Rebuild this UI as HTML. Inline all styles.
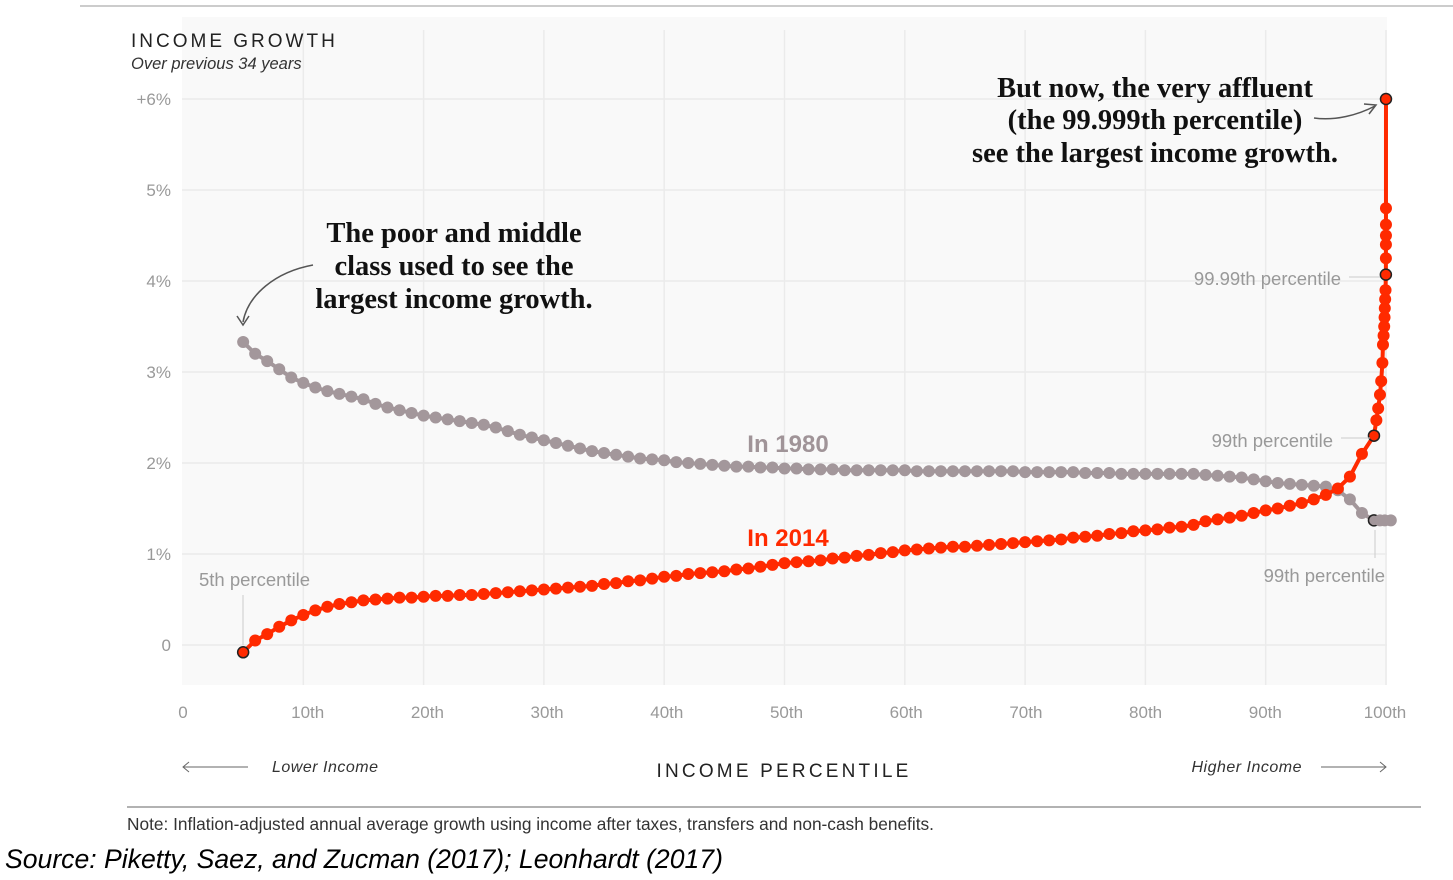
<!DOCTYPE html>
<html><head><meta charset="utf-8"><style>
body{margin:0;background:#fff;width:1453px;height:880px;overflow:hidden;font-family:"Liberation Sans",sans-serif}
svg{position:absolute;left:0;top:0}
</style></head><body>
<svg width="1453" height="880">
<line x1="80" y1="6" x2="1453" y2="6" stroke="#ccc" stroke-width="2"/>
<rect x="182" y="17" width="1205" height="668" fill="#f9f9f9"/>
<g id="grid"></g>
<text x="131" y="47" font-size="19" letter-spacing="3" fill="#222">INCOME GROWTH</text>
<text x="131" y="69" font-size="16.5" font-style="italic" fill="#333">Over previous 34 years</text>
<g id="yticks"></g>
<g id="xticks"></g>
<g id="s1980"></g>
<g id="s2014"></g>
<g font-family="Liberation Serif,serif" font-weight="bold" font-size="28.5" fill="#111" text-anchor="middle">
<text x="454" y="242">The poor and middle</text><text x="454" y="275">class used to see the</text><text x="454" y="308">largest income growth.</text></g>
<path d="M313,265 C275,272 248,295 243,322" fill="none" stroke="#555" stroke-width="1.5"/>
<path d="M237,316 L243,325 L249,316" fill="none" stroke="#555" stroke-width="1.5"/>
<g font-family="Liberation Serif,serif" font-weight="bold" font-size="28.5" fill="#111" text-anchor="middle">
<text x="1155" y="97">But now, the very affluent</text><text x="1155" y="129">(the 99.999th percentile)</text><text x="1155" y="162">see the largest income growth.</text></g>
<path d="M1314,118 C1335,121 1358,115 1375,106" fill="none" stroke="#555" stroke-width="1.5"/>
<path d="M1364,104 L1376,105 L1369,114" fill="none" stroke="#555" stroke-width="1.5"/>
<text x="788" y="452" font-size="24" font-weight="bold" fill="#a09498" text-anchor="middle">In 1980</text>
<text x="788" y="546" font-size="24" font-weight="bold" fill="#ff2a00" text-anchor="middle">In 2014</text>
<g font-size="18.5" fill="#999">
<text x="199" y="586">5th percentile</text>
<line x1="243" y1="595" x2="243" y2="645" stroke="#ccc"/>
<text x="1341" y="285" text-anchor="end">99.99th percentile</text>
<line x1="1349" y1="277" x2="1380" y2="277" stroke="#ccc"/>
<text x="1333" y="447" text-anchor="end">99th percentile</text>
<line x1="1341" y1="438" x2="1370" y2="438" stroke="#ccc"/>
<text x="1385" y="582" text-anchor="end">99th percentile</text>
<line x1="1375" y1="530" x2="1375" y2="558" stroke="#ccc"/>
</g>
<g font-size="16" font-style="italic" fill="#333">
<line x1="183" y1="767" x2="248" y2="767" stroke="#666"/><path d="M189,762 L183,767 L189,772" fill="none" stroke="#666"/>
<text x="272" y="772" letter-spacing="0.5">Lower Income</text>
<text x="1302" y="772" text-anchor="end" letter-spacing="0.5">Higher Income</text>
<line x1="1321" y1="767" x2="1386" y2="767" stroke="#666"/><path d="M1380,762 L1386,767 L1380,772" fill="none" stroke="#666"/>
</g>
<text x="784" y="777" font-size="19" letter-spacing="3.2" fill="#222" text-anchor="middle">INCOME PERCENTILE</text>
<line x1="127" y1="807" x2="1421" y2="807" stroke="#999" stroke-width="1.5"/>
<text x="127" y="830" font-size="17.3" fill="#333">Note: Inflation-adjusted annual average growth using income after taxes, transfers and non-cash benefits.</text>
<text x="5" y="868" font-size="26.6" font-style="italic" fill="#000">Source: Piketty, Saez, and Zucman (2017); Leonhardt (2017)</text>
</svg>
<script>
const yTicks=[0,1,2,3,4,5,6];
const yTickLabels=["0","1%","2%","3%","4%","5%","+6%"];
const xTicks=[0,10,20,30,40,50,60,70,80,90,100];
const xTickLabels=["0","10th","20th","30th","40th","50th","60th","70th","80th","90th","100th"];
const pct1980=[5,6,7,8,9,10,11,12,13,14,15,16,17,18,19,20,21,22,23,24,25,26,27,28,29,30,31,32,33,34,35,36,37,38,39,40,41,42,43,44,45,46,47,48,49,50,51,52,53,54,55,56,57,58,59,60,61,62,63,64,65,66,67,68,69,70,71,72,73,74,75,76,77,78,79,80,81,82,83,84,85,86,87,88,89,90,91,92,93,94,95,96,97,98,99,99.5,99.9,100.4];
const val1980=[
3.33,3.2,3.12,3.03,2.94,2.88,2.83,2.79,2.76,2.73,
2.7,2.65,2.61,2.58,2.55,2.52,2.5,2.48,2.46,2.44,
2.42,2.39,2.35,2.31,2.28,2.25,2.22,2.19,2.16,2.13,
2.11,2.09,2.07,2.05,2.04,2.03,2.01,2.0,1.99,1.98,
1.97,1.96,1.96,1.95,1.95,1.94,1.94,1.93,1.93,1.93,
1.92,1.92,1.92,1.92,1.92,1.92,1.91,1.91,1.91,1.91,
1.91,1.91,1.91,1.91,1.91,1.9,1.9,1.9,1.9,1.9,
1.89,1.89,1.89,1.88,1.88,1.88,1.88,1.88,1.88,1.88,
1.87,1.86,1.85,1.84,1.82,1.8,1.78,1.77,1.76,1.75,
1.74,1.7,1.6,1.45,1.37,
1.37,1.37,1.37];
const pct2014=[5,6,7,8,9,10,11,12,13,14,15,16,17,18,19,20,21,22,23,24,25,26,27,28,29,30,31,32,33,34,35,36,37,38,39,40,41,42,43,44,45,46,47,48,49,50,51,52,53,54,55,56,57,58,59,60,61,62,63,64,65,66,67,68,69,70,71,72,73,74,75,76,77,78,79,80,81,82,83,84,85,86,87,88,89,90,91,92,93,94,95,96,97,98,99,99.2,99.35,99.5,99.6,99.7,99.75,99.8,99.85,99.88,99.9,99.93,99.96,99.99,99.992,99.994,99.996,99.997,99.998,99.999];
const val2014=[
-0.08,0.05,0.12,0.2,0.27,0.33,0.38,0.42,0.45,0.47,
0.49,0.5,0.51,0.52,0.52,0.53,0.54,0.54,0.55,0.55,
0.56,0.57,0.58,0.59,0.6,0.61,0.62,0.63,0.64,0.65,
0.67,0.68,0.7,0.71,0.73,0.75,0.76,0.78,0.79,0.8,
0.81,0.83,0.84,0.86,0.88,0.9,0.91,0.92,0.93,0.95,
0.96,0.98,0.99,1.01,1.02,1.04,1.05,1.06,1.07,1.08,
1.08,1.09,1.1,1.11,1.12,1.13,1.14,1.15,1.16,1.18,
1.19,1.2,1.22,1.23,1.25,1.26,1.27,1.29,1.3,1.32,
1.36,1.38,1.4,1.42,1.45,1.48,1.5,1.53,1.56,1.6,1.65,1.72,1.85,2.1,2.3,
2.47,2.6,2.75,2.9,3.1,3.3,3.4,3.5,3.6,3.7,3.8,3.9,4.07,
4.25,4.4,4.5,4.62,4.8,6.0];
const NS="http://www.w3.org/2000/svg";
const X=p=>183+p*12.03, Y=v=>645-v*91;
function mk(t,a,parent){const e=document.createElementNS(NS,t);for(const k in a)e.setAttribute(k,a[k]);parent.appendChild(e);return e;}
const grid=document.getElementById('grid'),yt=document.getElementById('yticks'),xt=document.getElementById('xticks');
yTicks.forEach((v,i)=>{
 const l=mk('line',{x1:182,x2:1387,y1:Y(v),y2:Y(v),stroke:'#ebebeb','stroke-width':1.5},grid);
 
 
 const t=mk('text',{x:171,y:Y(v)+6,'font-size':17,fill:'#999','text-anchor':'end'},yt);
 t.textContent=yTickLabels[i];
 
 
});
xTicks.forEach((p,i)=>{
 if(p>0){const l=mk('line',{x1:X(p),x2:X(p),y1:30,y2:685,stroke:'#ebebeb','stroke-width':1.5},grid);
 
 }
 const t=mk('text',{x:X(p)+(p===0?0:5-p*0.06),y:718,'font-size':17,fill:'#999','text-anchor':'middle'},xt);
 t.textContent=xTickLabels[i];
 
 
});
function series(g,ps,vs,col,rings){
 const d=ps.map((p,i)=>(i?'L':'M')+X(p)+','+Y(vs[i])).join('');
 mk('path',{d:d,fill:'none',stroke:col,'stroke-width':4},g);
 ps.forEach((p,i)=>{
  const ring=rings.includes(p);
  const c=mk('circle',{cx:X(p),cy:Y(vs[i]),r:ring?5.5:6,fill:col,stroke:ring?'#222':'none','stroke-width':1.5},g);
  
  
 });
}
series(document.getElementById('s1980'),pct1980,val1980,'#a3979b',[99]);
series(document.getElementById('s2014'),pct2014,val2014,'#ff2a00',[5,99,99.99,99.999]);
</script>
</body></html>
